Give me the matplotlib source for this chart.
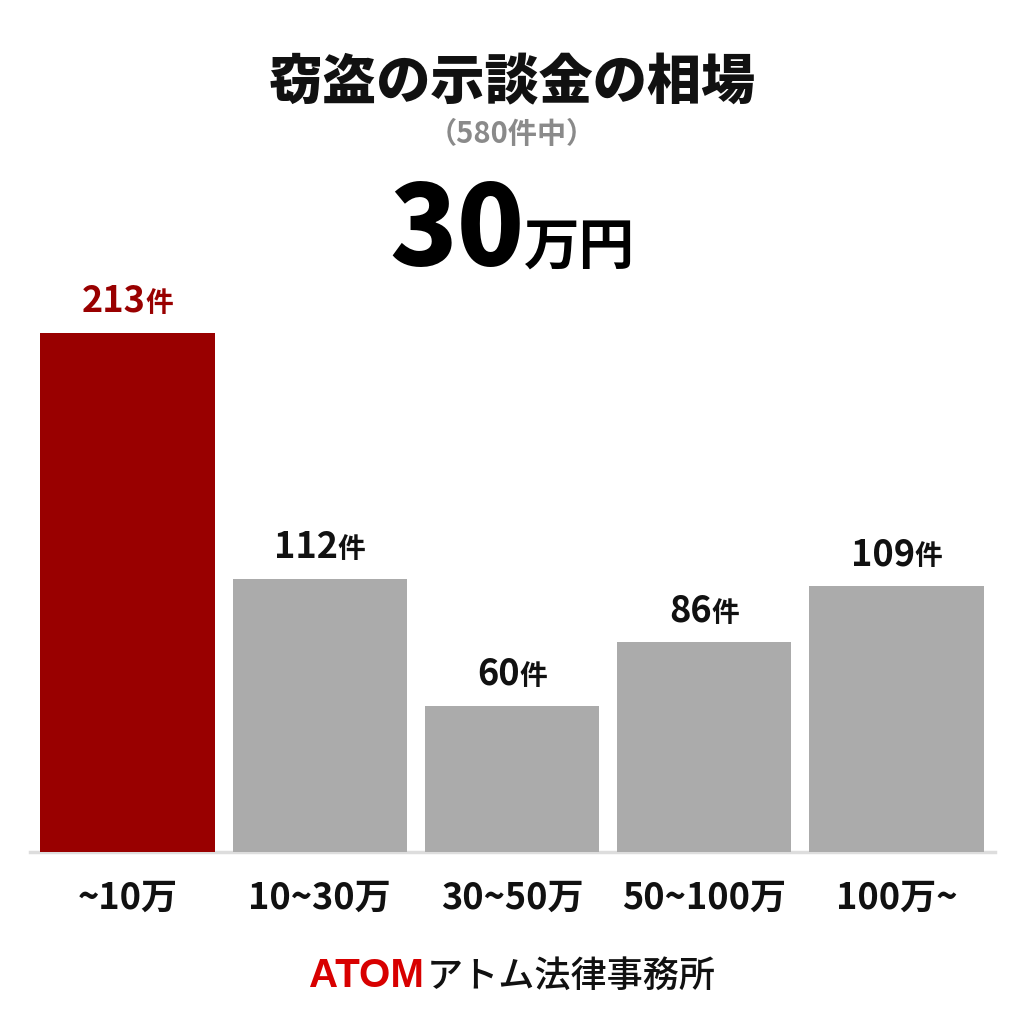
from matplotlib import pyplot as plt
from matplotlib.transforms import offset_copy

plt.rcParams['font.family'] = ['Noto Sans CJK JP', 'DejaVu Sans']

categories = ["~10万", "10~30万", "30~50万", "50~100万", "100万~"]
counts = [213, 112, 60, 86, 109]
bar_colors = ["#990000", "#ABABAB", "#ABABAB", "#ABABAB", "#ABABAB"]
label_colors = ["#990000", "#111111", "#111111", "#111111", "#111111"]

title = "窃盗の示談金の相場"
subtitle = "（580件中）"
headline_num = "30"
headline_unit = "万円"
footer_logo = "ATOM"
footer_name = "アトム法律事務所"

fig = plt.figure(figsize=(10.24, 10.24), dpi=100)
fig.patch.set_facecolor("white")
W, H = 1024, 1024

# axes area in pixel coordinates: x 30..995, baseline at y=852
ax = fig.add_axes([30 / W, (H - 852) / H, 965 / W, 585 / H])
ax.bar(range(len(counts)), counts, width=0.907, color=bar_colors, zorder=2)
ax.set_xlim(-0.507, 4.512)
ax.set_ylim(0, 240)
for s in ["top", "right", "left"]:
    ax.spines[s].set_visible(False)
ax.spines["bottom"].set_color("#DDDDDD")
ax.spines["bottom"].set_linewidth(2.5)
ax.spines["bottom"].set_zorder(1)
ax.set_yticks([])
ax.set_xticks(range(len(categories)))
ax.set_xticklabels(categories, fontsize=26, fontweight="bold", color="#111111")
ax.tick_params(axis="x", length=0, pad=20)

renderer = fig.canvas.get_renderer()


def centered_parts(x, y, transform, parts, dy_pts=0):
    # draw several text pieces side by side on one baseline, centered at x
    texts = []
    for s, kw in parts:
        t = fig.text(x, y, s, transform=transform, ha="left", va="baseline", **kw)
        texts.append(t)
    widths = [t.get_window_extent(renderer).width for t in texts]
    total = sum(widths)
    dx = -total / 2
    for t, w in zip(texts, widths):
        t.set_transform(offset_copy(transform, fig=fig, x=dx, y=dy_pts * 100 / 72, units="dots"))
        dx += w
    return texts


# value labels above bars
for i, (v, c) in enumerate(zip(counts, label_colors)):
    centered_parts(i, v, ax.transData,
                   [(str(v), dict(fontsize=26, fontweight="bold", color=c)),
                    ("件", dict(fontsize=20, fontweight="bold", color=c))],
                   dy_pts=15)

# header
fig.text(0.5, 1 - 99 / H, title, ha="center", va="baseline", fontsize=39,
         fontweight="heavy", color="#111111")
fig.text(0.5, 1 - 143 / H, subtitle, ha="center", va="baseline", fontsize=21,
         fontweight="bold", color="#8A8A8A")
centered_parts(0.5, 1 - 265 / H, fig.transFigure,
               [(headline_num, dict(fontsize=80, fontweight="heavy", color="#000000")),
                (headline_unit, dict(fontsize=40, fontweight="bold", color="#000000"))])

# footer
centered_parts(0.5, 1 - 987 / H, fig.transFigure,
               [(footer_logo, dict(fontsize=29, fontweight="heavy", color="#D80000",
                                   family=["Liberation Sans", "DejaVu Sans"])),
                (" ", dict(fontsize=8)),
                (footer_name, dict(fontsize=26, fontweight="medium", color="#111111"))])

fig.savefig("out.png", dpi=100, facecolor="white")
